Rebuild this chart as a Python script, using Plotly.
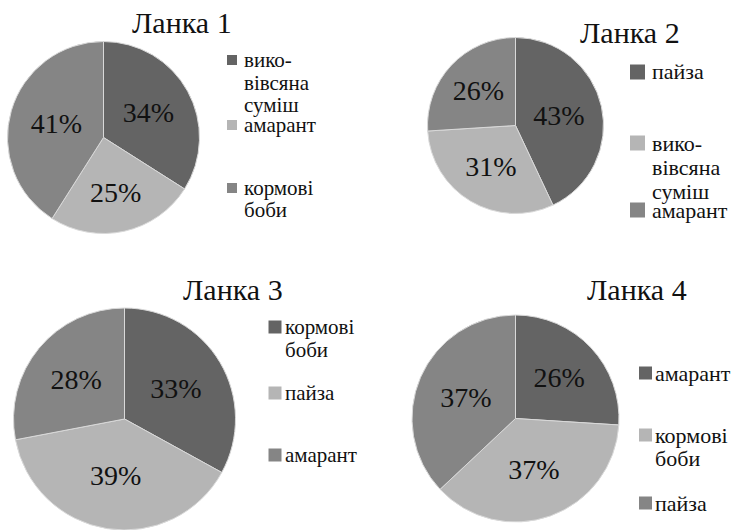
import plotly.graph_objects as go

W, H = 745, 530

# ---- data ----
titles = ["Ланка 1", "Ланка 2", "Ланка 3", "Ланка 4"]
labels1 = ["вико-вівсяна суміш", "амарант", "кормові боби"]
values1 = [34, 25, 41]
labels2 = ["пайза", "вико-вівсяна суміш", "амарант"]
values2 = [43, 31, 26]
labels3 = ["кормові боби", "пайза", "амарант"]
values3 = [33, 39, 28]
labels4 = ["амарант", "кормові боби", "пайза"]
values4 = [26, 37, 37]

# legend text as shown (line breaks)
legend_text1 = [["вико-", "вівсяна", "суміш"], ["амарант"], ["кормові", "боби"]]
legend_text2 = [["пайза"], ["вико-", "вівсяна", "суміш"], ["амарант"]]
legend_text3 = [["кормові", "боби"], ["пайза"], ["амарант"]]
legend_text4 = [["амарант"], ["кормові", "боби"], ["пайза"]]

# ---- styling / layout ----
FONT = "Times New Roman"
FONT_LEG = "serif"
slice_colors = ["#646464", "#b5b5b5", "#858585"]

def px_x(x):
    return x / W

def px_y(y):
    return 1 - y / H

# pie geometry: center (px), radius (px)
pie_geom = [
    (103.5, 137.5, 96),
    (515.5, 125.5, 88),
    (124.5, 419.0, 111),
    (515.5, 418.5, 103.5),
]
title_pos = [(182, 23), (630, 33), (233, 289), (637, 289)]
TITLE_SIZE = 30
PCT_SIZE = 28

# legend layout: marker center x, marker size, text x, font size, first-line y of items, line height
legend_layout = [
    dict(mx=232, ms=10, tx=242, fs=21, ys=[60, 125, 188], lh=22.5),
    dict(mx=637.5, ms=15, tx=650, fs=22, ys=[72, 143, 210], lh=24.5),
    dict(mx=275, ms=13, tx=283, fs=21, ys=[327, 393, 455], lh=23),
    dict(mx=645.5, ms=13, tx=653, fs=22, ys=[373, 435, 503], lh=23),
]

all_labels = [labels1, labels2, labels3, labels4]
all_values = [values1, values2, values3, values4]
all_legend_text = [legend_text1, legend_text2, legend_text3, legend_text4]

fig = go.Figure()
annotations = []
shapes = []

for i in range(4):
    cx, cy, r = pie_geom[i]
    dom_x = [max(0, px_x(cx - r)), min(1, px_x(cx + r))]
    dom_y = [max(0, px_y(cy + r)), min(1, px_y(cy - r))]
    fig.add_trace(go.Pie(
        labels=all_labels[i],
        values=all_values[i],
        sort=False,
        direction="clockwise",
        rotation=0,
        domain=dict(x=dom_x, y=dom_y),
        marker=dict(colors=slice_colors, line=dict(color="#d9d9d9", width=1)),
        textinfo="percent",
        textposition="inside",
        insidetextorientation="horizontal",
        textfont=dict(family=FONT, size=PCT_SIZE, color="#111111"),
        showlegend=False,
        hoverinfo="label+percent",
    ))
    tx, ty = title_pos[i]
    annotations.append(dict(
        x=px_x(tx), y=px_y(ty), xref="paper", yref="paper",
        xanchor="center", yanchor="middle", showarrow=False,
        text=titles[i], font=dict(family=FONT, size=TITLE_SIZE, color="#111111"),
    ))
    lg = legend_layout[i]
    for j, lines in enumerate(all_legend_text[i]):
        y0 = lg["ys"][j]
        s = lg["ms"]
        shapes.append(dict(
            type="rect", xref="paper", yref="paper",
            x0=px_x(lg["mx"] - s / 2), x1=px_x(lg["mx"] + s / 2),
            y0=px_y(y0 + s / 2), y1=px_y(y0 - s / 2),
            fillcolor=slice_colors[j], line=dict(width=0),
        ))
        for k, line in enumerate(lines):
            annotations.append(dict(
                x=px_x(lg["tx"]), y=px_y(y0 + k * lg["lh"]),
                xref="paper", yref="paper", xanchor="left", yanchor="middle",
                showarrow=False, text=line,
                font=dict(family=FONT_LEG, size=lg["fs"], color="#111111"),
            ))

fig.update_layout(
    width=W, height=H,
    margin=dict(l=0, r=0, t=0, b=0),
    paper_bgcolor="white", plot_bgcolor="white",
    font=dict(family=FONT, color="#111111"),
    annotations=annotations, shapes=shapes,
)

fig.write_html("out.html", config={"displayModeBar": False},
               post_script="document.body.style.margin='0px';")
